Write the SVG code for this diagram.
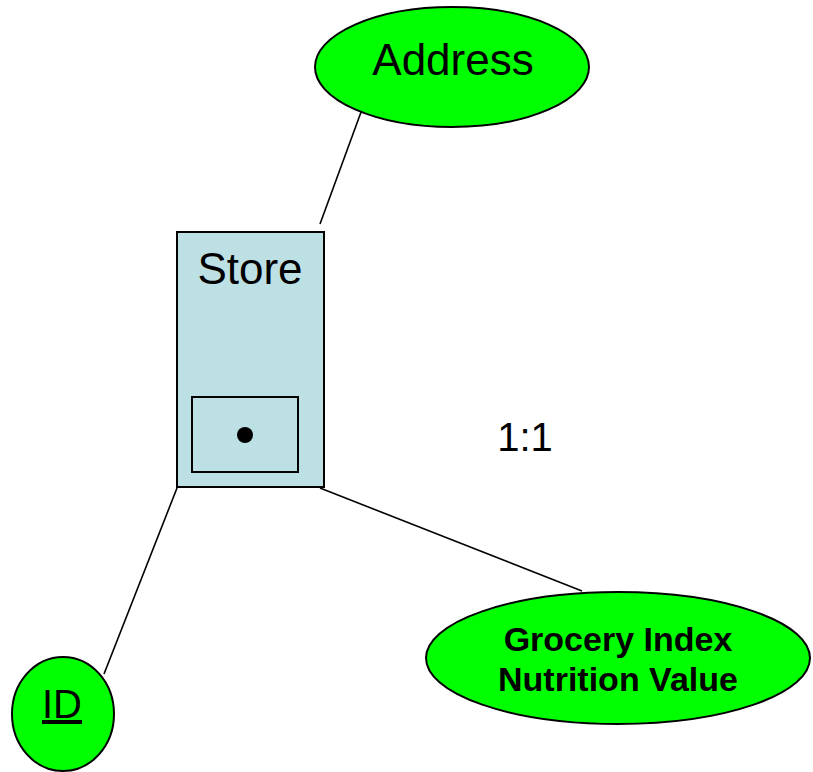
<svg xmlns="http://www.w3.org/2000/svg" width="813" height="772" viewBox="0 0 813 772">
<style>
.attr{fill:#00ff00;stroke:#000;stroke-width:2}
.t{font-family:"Liberation Sans",Arial,sans-serif;fill:#000;text-anchor:middle}
.c{stroke:#000;stroke-width:1.6;fill:none}
</style>
<rect width="813" height="772" fill="#fff"/>
<g id="connectors">
<line class="c" x1="364" y1="104" x2="320" y2="224"/>
<line class="c" x1="177" y1="488" x2="104" y2="674"/>
<line class="c" x1="320" y1="488" x2="582" y2="591"/>
</g>
<g id="address">
<ellipse class="attr" cx="452" cy="67" rx="137" ry="60"/>
<text class="t" x="453" y="75" font-size="44">Address</text>
</g>
<g id="store">
<rect x="177" y="232" width="147" height="255" fill="#bde0e4" stroke="#000" stroke-width="2"/>
<text class="t" x="250" y="284" font-size="44">Store</text>
<rect x="192" y="397" width="106" height="75" fill="none" stroke="#000" stroke-width="2"/>
<circle cx="245" cy="435" r="8" fill="#000"/>
</g>
<g id="id">
<ellipse class="attr" cx="63" cy="714" rx="51" ry="57"/>
<text class="t" x="62" y="718" font-size="40" text-decoration="underline">ID</text>
</g>
<g id="grocery">
<ellipse class="attr" cx="618" cy="658" rx="192" ry="66"/>
<text class="t" x="618" y="651" font-size="34" font-weight="bold">Grocery Index</text>
<text class="t" x="618" y="691" font-size="34" font-weight="bold">Nutrition Value</text>
</g>
<g id="label">
<text class="t" x="525" y="451" font-size="40">1:1</text>
</g>
</svg>
